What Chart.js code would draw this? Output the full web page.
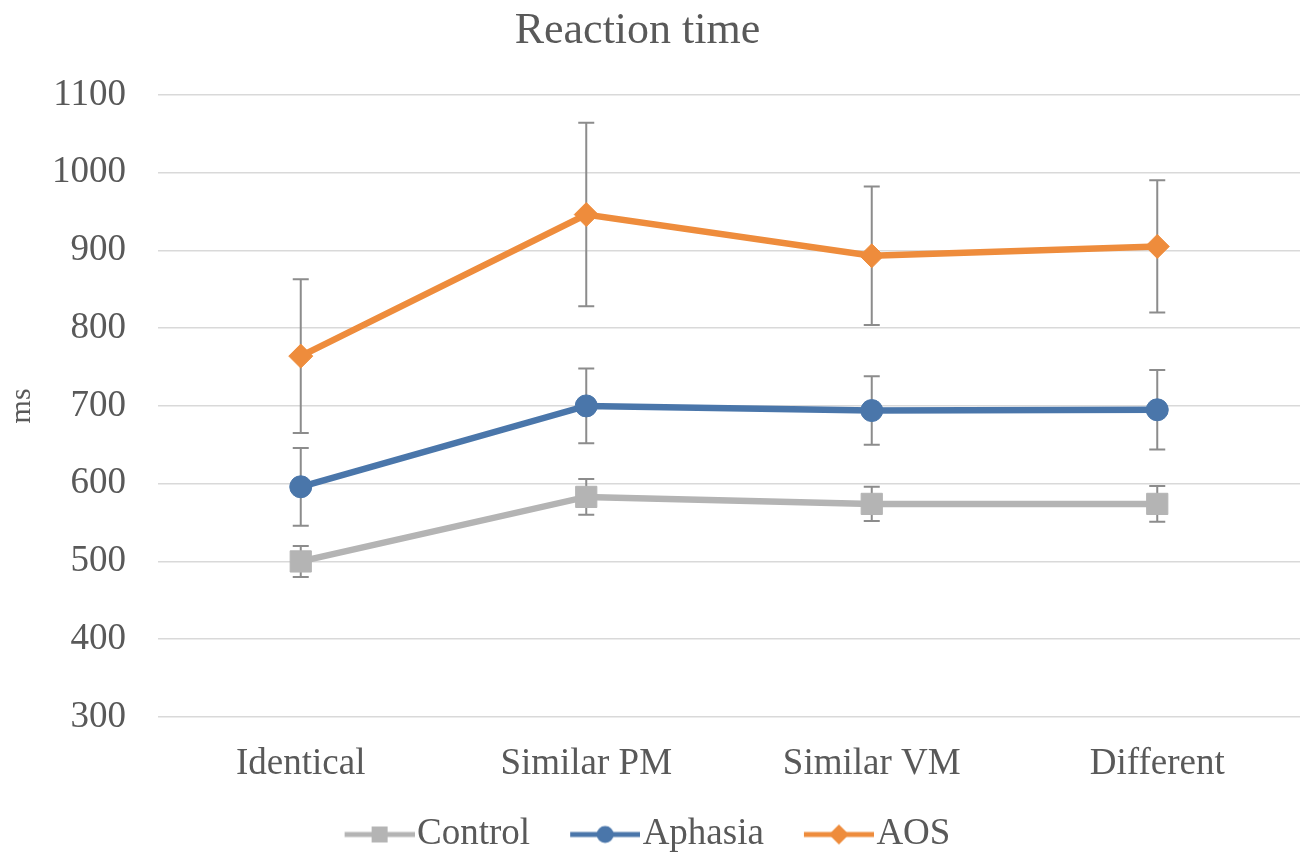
<!DOCTYPE html>
<html>
<head>
<meta charset="utf-8">
<script src="https://cdn.jsdelivr.net/npm/chart.js@4.4.1/dist/chart.umd.min.js"></script>
<style>
  html, body { margin: 0; padding: 0; background: #fff; }
</style>
</head>
<body>
<canvas id="rt" width="1308" height="856"></canvas>
<script>
// values (ms)
const conditions = ["Identical", "Similar PM", "Similar VM", "Different"];
const control = [500, 583, 574, 574];
const controlErr = [20, 23, 22, 23];
const aphasia = [596, 700, 694, 695];
const aphasiaErr = [50, 48, 44, 51];
const aos = [764, 946, 893, 905];
const aosErr = [99, 118, 89, 85];
const yMin = 300, yMax = 1100, yStep = 100;

const grey = '#b4b4b4';
const blue = '#4a76aa';
const orange = '#ee8c3c';
const textCol = '#595959';
const serif = "'Liberation Serif', 'Times New Roman', serif";

// line+marker icons for the legend; drawn off-centre in the image so the
// text follows right after it
function legendIcon(color, shape) {
    const c = document.createElement('canvas');
    c.width = 106;
    c.height = 24;
    const g = c.getContext('2d');
    g.strokeStyle = color;
    g.fillStyle = color;
    g.lineWidth = 5;
    g.beginPath();
    g.moveTo(36, 12);
    g.lineTo(106, 12);
    g.stroke();
    g.beginPath();
    if (shape === 'rect') {
        g.rect(63, 4, 16, 16);
    } else if (shape === 'circle') {
        g.arc(71, 12, 8.5, 0, Math.PI * 2);
    } else {
        g.moveTo(71, 2);
        g.lineTo(81, 12);
        g.lineTo(71, 22);
        g.lineTo(61, 12);
        g.closePath();
    }
    g.fill();
    return c;
}
const icons = [legendIcon(grey, 'rect'), legendIcon(blue, 'circle'), legendIcon(orange, 'diamond')];

// error bars, drawn under the lines and markers
const errorBars = {
    id: 'errorBars',
    beforeDatasetsDraw(chart) {
        const ctx = chart.ctx;
        const y = chart.scales.y;
        ctx.save();
        ctx.strokeStyle = '#8c8c8c';
        ctx.lineWidth = 2;
        chart.data.datasets.forEach((ds, i) => {
            chart.getDatasetMeta(i).data.forEach((pt, j) => {
                const top = y.getPixelForValue(ds.data[j] + ds.errors[j]);
                const bot = y.getPixelForValue(ds.data[j] - ds.errors[j]);
                ctx.beginPath();
                ctx.moveTo(pt.x, top);
                ctx.lineTo(pt.x, bot);
                ctx.moveTo(pt.x - 8, top);
                ctx.lineTo(pt.x + 8, top);
                ctx.moveTo(pt.x - 8, bot);
                ctx.lineTo(pt.x + 8, bot);
                ctx.stroke();
            });
        });
        ctx.restore();
    }
};

new Chart(document.getElementById('rt'), {
    type: 'line',
    data: {
        labels: conditions,
        datasets: [
            {
                label: 'Control',
                data: control,
                errors: controlErr,
                borderColor: grey,
                backgroundColor: grey,
                pointStyle: 'rect',
                pointRadius: 15,
                pointHoverRadius: 15
            },
            {
                label: 'Aphasia',
                data: aphasia,
                errors: aphasiaErr,
                borderColor: blue,
                backgroundColor: blue,
                pointStyle: 'circle',
                pointRadius: 11,
                pointHoverRadius: 11
            },
            {
                label: 'AOS',
                data: aos,
                errors: aosErr,
                borderColor: orange,
                backgroundColor: orange,
                pointStyle: 'rectRot',
                pointRadius: 12,
                pointHoverRadius: 12
            }
        ]
    },
    options: {
        responsive: false,
        animation: false,
        devicePixelRatio: 1,
        elements: {
            line: { borderWidth: 6.5, tension: 0 },
            point: { borderWidth: 1 }
        },
        // the original figure sits a little left of centre
        layout: { autoPadding: false, padding: { left: -33, right: 0, top: 0, bottom: -7 } },
        plugins: {
            title: {
                display: true,
                text: 'Reaction time',
                color: textCol,
                font: { family: serif, size: 44, weight: 'normal' },
                padding: { top: 5, bottom: 37 }
            },
            legend: {
                position: 'bottom',
                labels: {
                    color: textCol,
                    font: { family: serif, size: 37 },
                    usePointStyle: true,
                    pointStyleWidth: 74,
                    padding: 20,
                    generateLabels(chart) {
                        const items = Chart.defaults.plugins.legend.labels.generateLabels(chart);
                        items.forEach((it, i) => { it.pointStyle = icons[i]; });
                        return items;
                    }
                }
            },
            tooltip: { enabled: false }
        },
        scales: {
            x: {
                offset: true,
                afterFit(scale) {
                    scale.height = 79;
                    scale.paddingLeft = 0;
                    scale.paddingRight = 8;
                },
                grid: { display: false },
                border: { display: false },
                ticks: {
                    color: textCol,
                    font: { family: serif, size: 37 },
                    padding: 17
                }
            },
            y: {
                min: yMin,
                max: yMax,
                afterFit(scale) { scale.width = 191; },
                grid: { color: '#d9d9d9', lineWidth: 1.5, drawTicks: false },
                border: { display: false },
                ticks: {
                    stepSize: yStep,
                    color: textCol,
                    font: { family: serif, size: 37 },
                    padding: 32,
                    callback: v => String(v)
                },
                title: {
                    display: true,
                    text: 'ms',
                    color: textCol,
                    font: { family: serif, size: 30 },
                    padding: { top: 37, bottom: 0 }
                }
            }
        }
    },
    plugins: [errorBars]
});
</script>
</body>
</html>
